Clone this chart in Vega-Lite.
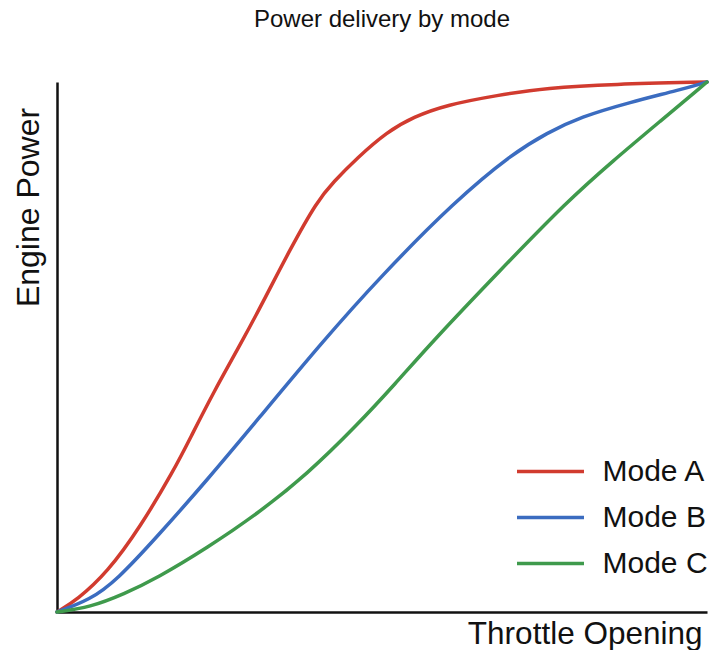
{
  "$schema": "https://vega.github.io/schema/vega-lite/v6.json",
  "width": 650,
  "height": 530,
  "autosize": {"type": "none"},
  "padding": {"left": 57, "top": 82, "right": 7, "bottom": 38},
  "background": "white",
  "config": {
    "view": {"stroke": null},
    "font": "Liberation Sans"
  },
  "title": {
    "text": "Power delivery by mode",
    "fontSize": 24,
    "fontWeight": "normal",
    "font": "Liberation Sans",
    "color": "#111111",
    "anchor": "middle",
    "baseline": "alphabetic",
    "offset": 24
  },
  "data": {
    "values": [
      {"mode": "Mode A", "throttle": 0, "power": 0},
      {"mode": "Mode A", "throttle": 3.1, "power": 2.3},
      {"mode": "Mode A", "throttle": 7.7, "power": 7.4},
      {"mode": "Mode A", "throttle": 12.8, "power": 16.0},
      {"mode": "Mode A", "throttle": 18.0, "power": 26.8},
      {"mode": "Mode A", "throttle": 20.5, "power": 32.8},
      {"mode": "Mode A", "throttle": 24.0, "power": 41.3},
      {"mode": "Mode A", "throttle": 28.5, "power": 51.1},
      {"mode": "Mode A", "throttle": 32.0, "power": 59.2},
      {"mode": "Mode A", "throttle": 35.8, "power": 68.3},
      {"mode": "Mode A", "throttle": 40.0, "power": 77.5},
      {"mode": "Mode A", "throttle": 42.5, "power": 81.1},
      {"mode": "Mode A", "throttle": 46.2, "power": 85.7},
      {"mode": "Mode A", "throttle": 50.8, "power": 90.6},
      {"mode": "Mode A", "throttle": 54.8, "power": 93.4},
      {"mode": "Mode A", "throttle": 60.0, "power": 95.7},
      {"mode": "Mode A", "throttle": 67.7, "power": 97.5},
      {"mode": "Mode A", "throttle": 75.4, "power": 98.9},
      {"mode": "Mode A", "throttle": 85.5, "power": 99.6},
      {"mode": "Mode A", "throttle": 100, "power": 100},
      {"mode": "Mode B", "throttle": 0, "power": 0},
      {"mode": "Mode B", "throttle": 5.1, "power": 2.3},
      {"mode": "Mode B", "throttle": 9.2, "power": 6.0},
      {"mode": "Mode B", "throttle": 15.4, "power": 14.2},
      {"mode": "Mode B", "throttle": 23.1, "power": 24.9},
      {"mode": "Mode B", "throttle": 30.8, "power": 36.2},
      {"mode": "Mode B", "throttle": 40.9, "power": 51.1},
      {"mode": "Mode B", "throttle": 49.7, "power": 63.2},
      {"mode": "Mode B", "throttle": 61.2, "power": 77.5},
      {"mode": "Mode B", "throttle": 70.2, "power": 86.6},
      {"mode": "Mode B", "throttle": 75.4, "power": 90.4},
      {"mode": "Mode B", "throttle": 80.5, "power": 93.4},
      {"mode": "Mode B", "throttle": 88.2, "power": 96.2},
      {"mode": "Mode B", "throttle": 95.8, "power": 98.5},
      {"mode": "Mode B", "throttle": 100, "power": 100},
      {"mode": "Mode C", "throttle": 0, "power": 0},
      {"mode": "Mode C", "throttle": 5.1, "power": 0.9},
      {"mode": "Mode C", "throttle": 10.3, "power": 3.4},
      {"mode": "Mode C", "throttle": 15.4, "power": 6.4},
      {"mode": "Mode C", "throttle": 23.1, "power": 12.1},
      {"mode": "Mode C", "throttle": 30.8, "power": 18.5},
      {"mode": "Mode C", "throttle": 38.5, "power": 26.0},
      {"mode": "Mode C", "throttle": 46.2, "power": 35.3},
      {"mode": "Mode C", "throttle": 52.0, "power": 43.0},
      {"mode": "Mode C", "throttle": 57.8, "power": 51.1},
      {"mode": "Mode C", "throttle": 68.2, "power": 64.5},
      {"mode": "Mode C", "throttle": 78.5, "power": 77.5},
      {"mode": "Mode C", "throttle": 85.5, "power": 85.1},
      {"mode": "Mode C", "throttle": 92.8, "power": 92.6},
      {"mode": "Mode C", "throttle": 100, "power": 100}
    ]
  },
  "mark": {"type": "line", "interpolate": "basis", "strokeWidth": 3.5, "strokeCap": "round"},
  "encoding": {
    "x": {
      "field": "throttle",
      "type": "quantitative",
      "scale": {"domain": [0, 100], "nice": false, "zero": true},
      "axis": {
        "title": "Throttle Opening",
        "grid": false,
        "ticks": false,
        "labels": false,
        "domainColor": "#111111",
        "domainWidth": 2.5,
        "titleFont": "Liberation Sans",
        "titleFontSize": 31.5,
        "titleFontWeight": "normal",
        "titleColor": "#111111",
        "titleAnchor": "end",
        "titleAlign": "right",
        "titleBaseline": "alphabetic",
        "titleX": 645,
        "titleY": 31
      }
    },
    "y": {
      "field": "power",
      "type": "quantitative",
      "scale": {"domain": [0, 100], "nice": false, "zero": true},
      "axis": {
        "title": "Engine Power",
        "grid": false,
        "ticks": false,
        "labels": false,
        "domainColor": "#111111",
        "domainWidth": 2.5,
        "titleFont": "Liberation Sans",
        "titleFontSize": 32,
        "titleFontWeight": "normal",
        "titleColor": "#111111",
        "titleAngle": -90,
        "titleAlign": "center",
        "titleBaseline": "middle",
        "titleX": -29,
        "titleY": 125
      }
    },
    "color": {
      "field": "mode",
      "type": "nominal",
      "scale": {"domain": ["Mode A", "Mode B", "Mode C"], "range": ["#d13b2f", "#3b6cc0", "#3f9a4c"]},
      "legend": {
        "title": null,
        "orient": "none",
        "legendX": 475,
        "legendY": 371,
        "symbolType": "M-2,0H2",
        "symbolSize": 1122,
        "symbolStrokeWidth": 3.5,
        "symbolFillColor": "transparent",
        "labelFont": "Liberation Sans",
        "labelFontSize": 30,
        "labelColor": "#111111",
        "labelOffset": 33.5,
        "rowPadding": 12
      }
    }
  }
}
